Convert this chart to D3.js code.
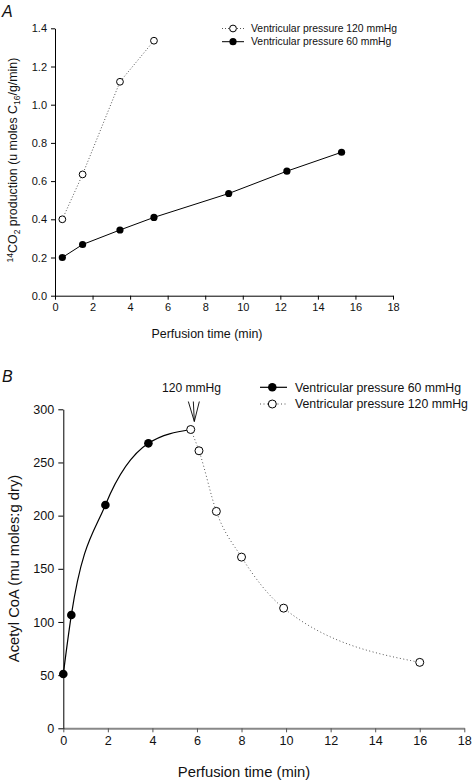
<!DOCTYPE html>
<html>
<head>
<meta charset="utf-8">
<script src="https://cdn.jsdelivr.net/npm/d3@7"></script>
<style>
  html, body { margin: 0; padding: 0; background: #fff; }
  svg { display: block; font-family: "Liberation Sans", Arial, Helvetica, sans-serif; }
</style>
</head>
<body>
<svg id="chart" width="472" height="781"></svg>
<script>
// ---------- Data ----------
// Panel A: 14CO2 production
const timeA120 = [0.39, 1.47, 3.46, 5.27];
const co2A120  = [0.40, 0.635, 1.12, 1.335];
const timeA60  = [0.39, 1.47, 3.46, 5.27, 9.25, 12.35, 15.26];
const co2A60   = [0.20, 0.268, 0.344, 0.41, 0.535, 0.652, 0.751];
// Panel B: Acetyl CoA
const timeB60  = [0, 0.36, 1.89, 3.82];
const acoB60   = [51, 106.5, 210, 268];
const timeB120 = [5.72, 6.09, 6.87, 8.0, 9.89, 16.0];
const acoB120  = [281, 261, 204, 161, 113, 62];
// Ticks / labels
const xTicks   = [0, 2, 4, 6, 8, 10, 12, 14, 16, 18];
const yTicksA  = [0, 0.2, 0.4, 0.6, 0.8, 1.0, 1.2, 1.4];
const yTicksB  = [0, 50, 100, 150, 200, 250, 300];
const legendA  = ["Ventricular pressure 120 mmHg", "Ventricular pressure 60 mmHg"];
const legendB  = ["Ventricular pressure 60 mmHg", "Ventricular pressure 120 mmHg"];
const xTitle   = "Perfusion time (min)";
const yTitleB  = "Acetyl CoA (mu moles:g dry)";
const arrowLabel = "120 mmHg";

const svg = d3.select("#chart");
const zip = (xs, ys) => xs.map((x, i) => [x, ys[i]]);

// ---------- Panel A ----------
const xA = d3.scaleLinear().domain([0, 18]).range([55, 393]);
const yA = d3.scaleLinear().domain([0, 1.4]).range([295.7, 28.3]);
const gA = svg.append("g");

const axXA = gA.append("g").attr("transform", `translate(0,${yA(0)})`)
  .call(d3.axisBottom(xA).tickValues(xTicks).tickSize(4).tickPadding(4).tickSizeOuter(0));
const axYA = gA.append("g").attr("transform", `translate(${xA(0)},0)`)
  .call(d3.axisLeft(yA).tickValues(yTicksA).tickFormat(d3.format(".1f")).tickSize(4).tickPadding(4).tickSizeOuter(0));
[axXA, axYA].forEach(a => {
  a.selectAll("text").attr("font-size", 11).attr("fill", "#111").attr("font-family", null);
  a.selectAll("line, path").attr("stroke", "#000").attr("stroke-width", 1);
  a.attr("font-family", null);
});

const lineA = d3.line().x(d => xA(d[0])).y(d => yA(d[1]));
const dA120 = zip(timeA120, co2A120), dA60 = zip(timeA60, co2A60);
gA.append("path").datum(dA120).attr("d", lineA).attr("fill", "none")
  .attr("stroke", "#555").attr("stroke-width", 1).attr("stroke-dasharray", "1,2");
gA.append("path").datum(dA60).attr("d", lineA).attr("fill", "none")
  .attr("stroke", "#000").attr("stroke-width", 1);
gA.selectAll(".o120").data(dA120).join("circle")
  .attr("cx", d => xA(d[0])).attr("cy", d => yA(d[1])).attr("r", 3.4)
  .attr("fill", "#fff").attr("stroke", "#000").attr("stroke-width", 1);
gA.selectAll(".f60").data(dA60).join("circle")
  .attr("cx", d => xA(d[0])).attr("cy", d => yA(d[1])).attr("r", 3.6)
  .attr("fill", "#000");

// Legend A
const legA = gA.append("g");
[[legendA[0], true, 28.5], [legendA[1], false, 41.7]].forEach(([t, open, y]) => {
  legA.append("line").attr("x1", 222).attr("x2", 244).attr("y1", y).attr("y2", y)
    .attr("stroke", open ? "#555" : "#000").attr("stroke-width", 1)
    .attr("stroke-dasharray", open ? "1,2" : null);
  legA.append("circle").attr("cx", 233).attr("cy", y).attr("r", open ? 3.4 : 3.6)
    .attr("fill", open ? "#fff" : "#000").attr("stroke", "#000").attr("stroke-width", open ? 1 : 0);
  legA.append("text").attr("x", 251).attr("y", y + 3.7).attr("font-size", 10.4).attr("fill", "#111").text(t);
});

// Titles A
gA.append("text").attr("x", 207).attr("y", 337.5).attr("text-anchor", "middle")
  .attr("font-size", 12.4).attr("fill", "#111").text(xTitle);
const tYA = gA.append("text").attr("transform", "translate(17.3,160) rotate(-90)")
  .attr("text-anchor", "middle").attr("font-size", 12.4).attr("fill", "#111");
tYA.append("tspan").attr("font-size", 8.5).attr("dy", -4.5).text("14");
tYA.append("tspan").attr("dy", 4.5).text("CO");
tYA.append("tspan").attr("font-size", 8.5).attr("dy", 3).text("2");
tYA.append("tspan").attr("dy", -3).text(" production (u moles C");
tYA.append("tspan").attr("font-size", 8.5).attr("dy", 3).text("16");
tYA.append("tspan").attr("dy", -3).text("/g/min)");
gA.append("text").attr("x", 2).attr("y", 17).attr("font-size", 16).attr("font-style", "italic")
  .attr("fill", "#111").text("A");

// ---------- Panel B ----------
const xB = d3.scaleLinear().domain([0, 18]).range([63.3, 464.3]);
const yB = d3.scaleLinear().domain([0, 300]).range([728.3, 409.3]);
const gB = svg.append("g");

const axXB = gB.append("g").attr("transform", `translate(0,${yB(0)})`)
  .call(d3.axisBottom(xB).tickValues(xTicks).tickSize(4).tickPadding(4).tickSizeOuter(0));
axXB.selectAll("line").attr("stroke", "#555").attr("stroke-width", 1);
axXB.select(".domain").attr("stroke", "#888").attr("stroke-width", 2);
const axYB = gB.append("g").attr("transform", `translate(${xB(0)},0)`)
  .call(d3.axisLeft(yB).tickValues(yTicksB).tickSize(5).tickPadding(4).tickSizeOuter(0));
axYB.selectAll("line, path").attr("stroke", "#000").attr("stroke-width", 1);
[axXB, axYB].forEach(a => {
  a.attr("font-family", null);
  a.selectAll("text").attr("font-size", 12.6).attr("fill", "#111");
});

const dB60 = zip(timeB60, acoB60), dB120 = zip(timeB120, acoB120);
const lineB = d3.line().x(d => xB(d[0])).y(d => yB(d[1])).curve(d3.curveMonotoneX);
gB.append("path").datum(dB60.concat([dB120[0]])).attr("d", lineB).attr("fill", "none")
  .attr("stroke", "#000").attr("stroke-width", 1.2);
gB.append("path").datum(dB120).attr("d", lineB).attr("fill", "none")
  .attr("stroke", "#555").attr("stroke-width", 1).attr("stroke-dasharray", "1,2.5");
gB.selectAll(".f60").data(dB60).join("circle")
  .attr("cx", d => xB(d[0])).attr("cy", d => yB(d[1])).attr("r", 4.3).attr("fill", "#000");
gB.selectAll(".o120").data(dB120).join("circle")
  .attr("cx", d => xB(d[0])).attr("cy", d => yB(d[1])).attr("r", 4)
  .attr("fill", "#fff").attr("stroke", "#000").attr("stroke-width", 1);

// Arrow annotation
const tipX = xB(timeB120[0]) + 3.6, tipY = yB(acoB120[0]) - 8;
const arr = gB.append("g").attr("stroke", "#000").attr("stroke-width", 0.9);
arr.append("line").attr("x1", tipX - 1).attr("y1", tipY - 20).attr("x2", tipX).attr("y2", tipY);
arr.append("line").attr("x1", tipX - 6).attr("y1", tipY - 20).attr("x2", tipX).attr("y2", tipY);
arr.append("line").attr("x1", tipX + 5).attr("y1", tipY - 20).attr("x2", tipX).attr("y2", tipY);
gB.append("text").attr("x", tipX - 2.8).attr("y", tipY - 30).attr("text-anchor", "middle")
  .attr("font-size", 12.1).attr("fill", "#111").text(arrowLabel);

// Legend B
const legB = gB.append("g");
[[legendB[0], false, 387.3], [legendB[1], true, 404]].forEach(([t, open, y]) => {
  legB.append("line").attr("x1", 260).attr("x2", 287).attr("y1", y).attr("y2", y)
    .attr("stroke", open ? "#555" : "#000").attr("stroke-width", open ? 1 : 1.2)
    .attr("stroke-dasharray", open ? "1,2.5" : null);
  legB.append("circle").attr("cx", 272.3).attr("cy", y).attr("r", open ? 4 : 4.3)
    .attr("fill", open ? "#fff" : "#000").attr("stroke", "#000").attr("stroke-width", open ? 1 : 0);
  legB.append("text").attr("x", 295).attr("y", y + 4.4).attr("font-size", 12.3).attr("fill", "#111").text(t);
});

// Titles B
gB.append("text").attr("x", 244).attr("y", 777).attr("text-anchor", "middle")
  .attr("font-size", 14.8).attr("fill", "#111").text(xTitle);
gB.append("text").attr("transform", "translate(19,568.5) rotate(-90)").attr("text-anchor", "middle")
  .attr("font-size", 14.8).attr("fill", "#111").text(yTitleB);
gB.append("text").attr("x", 2).attr("y", 382).attr("font-size", 16).attr("font-style", "italic")
  .attr("fill", "#111").text("B");
</script>
</body>
</html>
